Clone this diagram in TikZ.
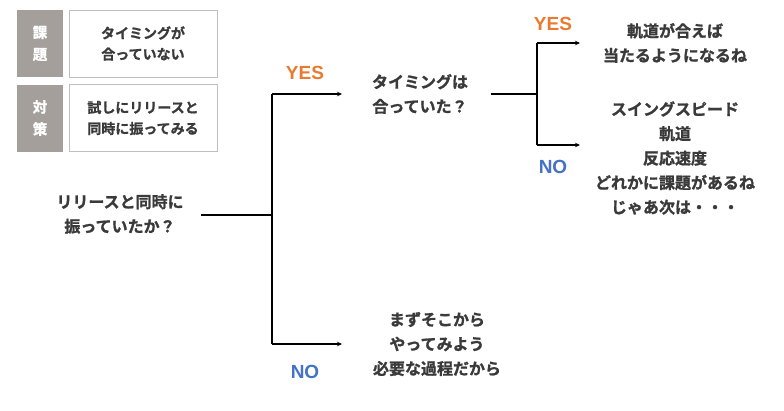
\documentclass[tikz,border=0pt]{standalone}
\usepackage{fontspec}
\setmainfont{Noto Sans CJK JP}[BoldFont={Noto Sans CJK JP Bold},BoldFeatures={FakeBold=1.2}]
\newfontfamily\latinb{Liberation Sans}
\usetikzlibrary{arrows.meta}
\definecolor{txt}{HTML}{3A3A3A}
\definecolor{tagg}{HTML}{A59F9C}
\definecolor{boxb}{HTML}{BFBFBF}
\definecolor{yescol}{HTML}{E97B30}
\definecolor{nocol}{HTML}{4472C4}
\begin{document}
\begin{tikzpicture}[x=1pt,y=-1pt,
  txtnode/.style={text=txt,font=\fontsize{16}{24.5}\selectfont\bfseries,align=center,inner sep=0pt},
  tagnode/.style={fill=tagg,text=white,font=\fontsize{14.5}{22}\selectfont\bfseries,align=center,minimum width=46pt,minimum height=67pt,inner sep=0pt},
  boxnode/.style={draw=boxb,line width=0.8pt,text=txt,font=\fontsize{14}{21}\selectfont\bfseries,align=center,minimum width=148pt,minimum height=67pt,inner sep=0pt},
  yeslab/.style={text=yescol,font=\latinb\fontsize{19}{19}\selectfont\bfseries,inner sep=0pt},
  nolab/.style={text=nocol,font=\latinb\fontsize{19}{19}\selectfont\bfseries,inner sep=0pt},
  conn/.style={draw=black,line width=1.1pt},
  arr/.style={conn,-{Stealth[length=5pt,width=4.5pt]}}
]
\useasboundingbox (0,0) rectangle (784,410);
% top-left legend
\node[tagnode] (t1) at (40,43.5) {課\\題};
\node[boxnode] (b1) at (143,43.5) {タイミングが\\合っていない};
\node[tagnode] (t2) at (40,118) {対\\策};
\node[boxnode] (b2) at (143,118) {試しにリリースと\\同時に振ってみる};
% main texts
\node[txtnode] (q1) at (120,214) {リリースと同時に\\振っていたか？};
\node[txtnode] (q2) at (420,94) {タイミングは\\合っていた？};
\node[txtnode] (a1) at (675,43) {軌道が合えば\\当たるようになるね};
\node[txtnode] (a2) at (675,158) {スイングスピード\\軌道\\反応速度\\どれかに課題があるね\\じゃあ次は・・・};
\node[txtnode] (a3) at (437,344) {まずそこから\\やってみよう\\必要な過程だから};
% labels
\node[yeslab] (y1) at (305,73) {YES};
\node[nolab] (n1) at (305,372) {NO};
\node[yeslab] (y2) at (553,24) {YES};
\node[nolab] (n2) at (553,167) {NO};
% connectors
\coordinate (j1) at (272,215);
\coordinate (q1e) at (201,215);
\coordinate (j1t) at (272,94);
\coordinate (j1b) at (272,344);
\coordinate (q2in) at (342,94);
\coordinate (a3in) at (342,344);
\draw[conn] (q1e) -- (j1);
\draw[conn] (j1t) -- (j1b);
\draw[arr] (j1t) -- (q2in);
\draw[arr] (j1b) -- (a3in);
\coordinate (q2e) at (491,94);
\coordinate (j2) at (537,94);
\coordinate (j2t) at (537,43);
\coordinate (j2b) at (537,145);
\coordinate (a1in) at (580,43);
\coordinate (a2in) at (580,145);
\draw[conn] (q2e) -- (j2);
\draw[conn] (j2t) -- (j2b);
\draw[arr] (j2t) -- (a1in);
\draw[arr] (j2b) -- (a2in);
\end{tikzpicture}
\end{document}
